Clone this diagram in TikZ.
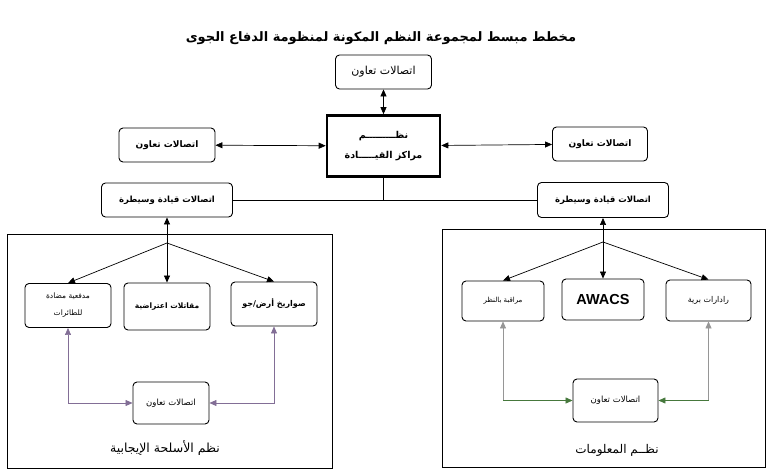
\documentclass[tikz,border=0pt]{standalone}
\usepackage{fontspec}
\setmainfont{Liberation Sans}
\newfontfamily\arabicfont[Script=Arabic]{DejaVu Sans}
\TeXXeTstate=1
\usepackage{tikz}
\usetikzlibrary{
	positioning,
	arrows.meta
}
\newcommand{\artxt}[1]{{\arabicfont\beginR #1\endR}}
\definecolor{linkL}{RGB}{130,110,150}
\definecolor{linkR}{RGB}{70,120,60}
\definecolor{linkG}{RGB}{150,150,150}
\tikzset{
	box/.style={draw,rounded corners=4pt,line width=0.9pt,inner sep=0pt,
		align=center,minimum width=86pt,minimum height=44pt},
	frame/.style={draw,line width=1pt},
	tip/.style={-{Triangle[length=7pt,width=6pt]}},
	twotip/.style={{Triangle[length=7pt,width=6pt]}-{Triangle[length=7pt,width=6pt]}},
	backtip/.style={{Triangle[length=7pt,width=6pt]}-}
}

\begin{document}
\begin{tikzpicture}[x=1pt,y=-1pt,line width=0.7pt]
	\useasboundingbox (0,0) rectangle (773,476);
	\draw [frame] (7,234) rectangle (332,468);
	\draw [frame] (442,229) rectangle (765,467);
	\draw
		node (title) at (381,38) {\fontsize{13}{16}\bfseries\artxt{مخطط مبسط لمجموعة النظم المكونة لمنظومة الدفاع الجوى}}
		node [box,minimum width=96pt,minimum height=34pt,font=\fontsize{11}{13}\selectfont] (top) at (383.5,72) {\artxt{اتصالات تعاون}}
		node [box,rounded corners=0pt,line width=2.6pt,minimum width=113pt,minimum height=61pt,
			font=\fontsize{9.5}{11}\bfseries] (cmd) at (383.5,146) {\artxt{نظـــــــــم}\\[9pt]\artxt{مراكز القيـــــادة}}
		node [box,minimum width=96pt,minimum height=34pt,font=\fontsize{9}{10}\bfseries] (commL) at (167,145) {\artxt{اتصالات تعاون}}
		node [box,minimum width=95pt,minimum height=34pt,font=\fontsize{9}{10}\bfseries] (commR) at (600,144) {\artxt{اتصالات تعاون}}
		node [box,minimum width=131pt,minimum height=34pt,font=\fontsize{8.5}{10}\bfseries] (ccL) at (167,200) {\artxt{اتصالات قيادة وسيطرة}}
		node [box,minimum width=131pt,minimum height=35pt,font=\fontsize{8.5}{10}\bfseries] (ccR) at (603,200) {\artxt{اتصالات قيادة وسيطرة}}
		coordinate (joint) at (383.5,200)

		node [box,font=\fontsize{7.5}{9}\selectfont] (gun) at (68,305.5) {\artxt{مدفعية مضادة}\\[8pt]\artxt{للطائرات}}
		node [box,minimum height=47pt,font=\fontsize{7.5}{9}\bfseries] (fighter) at (167,306.5) {\artxt{مقاتلات اعتراضية}}
		node [box,font=\fontsize{8}{9}\bfseries] (missile) at (274,304) {\artxt{صواريخ أرض/جو}}
		node [box,minimum width=76pt,minimum height=42pt,font=\fontsize{8.5}{9}\selectfont] (teamL) at (171,403) {\artxt{اتصالات تعاون}}
		node [font=\fontsize{12.5}{14}\selectfont] (weapons) at (165,448) {\artxt{نظم الأسلحة الإيجابية}}
		coordinate (forkL) at (167,243)

		node [box,minimum width=82pt,minimum height=40pt,font=\fontsize{7}{9}\selectfont] (watch) at (503,301) {\artxt{مراقبة بالنظر}}
		node [box,minimum width=82pt,minimum height=41pt,font=\fontsize{14.5}{16}\bfseries] (awacs) at (603,299.5) {AWACS}
		node [box,minimum width=85pt,minimum height=41pt,font=\fontsize{8}{9}\selectfont] (radar) at (708.5,300.5) {\artxt{رادارات برية}}
		node [box,minimum width=85pt,minimum height=43pt,font=\fontsize{8.5}{9}\selectfont] (teamR) at (615.5,400.5) {\artxt{اتصالات تعاون}}
		node [font=\fontsize{12}{14}\selectfont] (info) at (617,450) {\artxt{نظــم المعلومات}}
		coordinate (forkR) at (603,242)
		coordinate (bendA) at (503,400.5)
		coordinate (bendB) at (708.5,400.5)

		(top)   edge [twotip] (cmd)
		(cmd)   edge [twotip] (commL)
		(cmd)   edge [twotip] (commR)
		(cmd)   edge          (joint)
		(ccL)   edge          (ccR)

		(ccL)   edge [twotip] (fighter)
		(forkL) edge [tip]    (gun.north)
		(forkL) edge [tip]    (missile.north)
		(ccR)   edge [twotip] (awacs)
		(forkR) edge [tip]    (watch.north)
		(forkR) edge [tip]    (radar.north)
	;
	\draw [twotip,linkL,line width=0.6pt] (gun.south) |- (teamL.west);
	\draw [twotip,linkL,line width=0.6pt] (missile.south) |- (teamL.east);
	\draw [backtip,linkG,line width=0.6pt] (watch.south) -- (bendA);
	\draw [tip,linkR,line width=0.6pt] (bendA) -- (teamR.west);
	\draw [backtip,linkG,line width=0.6pt] (radar.south) -- (bendB);
	\draw [tip,linkR,line width=0.6pt] (bendB) -- (teamR.east);
\end{tikzpicture}
\end{document}
